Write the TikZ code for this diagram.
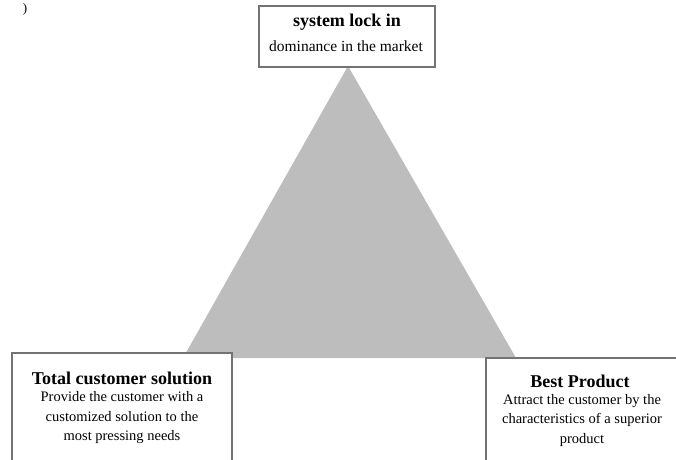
\documentclass[tikz,border=0pt]{standalone}
\usepackage{fontspec}
\setmainfont{Liberation Serif}
\begin{document}
\begin{tikzpicture}[x=1pt,y=-1pt,
  boxframe/.style={draw=black!55,line width=1.4pt,fill=white},
  ttl/.style={font=\fontsize{18}{20}\selectfont\bfseries,inner sep=0pt,anchor=center},
  bdy/.style={font=\fontsize{14.5}{19.5}\selectfont,align=center,inner sep=0pt,anchor=center}]
\useasboundingbox (0,0) rectangle (676,459);
\clip (0,0) rectangle (676,459);
\fill[white] (0,0) rectangle (676,459);
% triangle
\coordinate (apex) at (348,66);
\coordinate (bl) at (183,358);
\coordinate (br) at (516,358);
\fill[black!26] (apex) -- (bl) -- (br) -- cycle;
% top box
\draw[boxframe] (259,6) rectangle (435,67);
\node[ttl] (t1) at (347,22) {system lock in};
\node[bdy,font=\fontsize{15.5}{19}\selectfont] (t2) at (346,46) {dominance in the market};
% left box
\draw[boxframe] (12,353) rectangle (232,462);
\node[ttl] (l1) at (122,378) {Total customer solution};
\node[bdy] (l2) at (122,418) {Provide the customer with a\\customized solution to the\\most pressing needs};
% right box
\draw[boxframe] (486,358) rectangle (690,462);
\node[ttl] (r1) at (580,381) {Best Product};
\node[bdy] (r2) at (582,420) {Attract the customer by the\\characteristics of a superior\\product};
% stray fragment
\node[font=\fontsize{13}{13}\selectfont,inner sep=0pt] (frag) at (25,9) {)};
\end{tikzpicture}
\end{document}
